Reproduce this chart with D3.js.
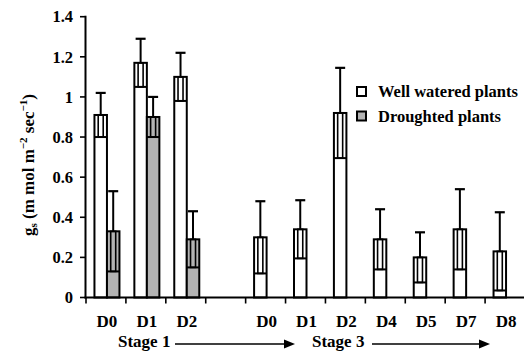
<!DOCTYPE html>
<html><head><meta charset="utf-8">
<script src="https://cdn.jsdelivr.net/npm/d3@7"></script>
<style>
html,body{margin:0;padding:0;background:#fff;}
</style></head>
<body><svg id="c" width="524" height="355"></svg>
<script>
const slots = ["S1-D0","S1-D1","S1-D2","gap","S3-D0","S3-D1","S3-D2","S3-D4","S3-D5","S3-D7","S3-D8"];
const tickLabels = ["D0","D1","D2","","D0","D1","D2","D4","D5","D7","D8"];
const wellValues = [0.91,1.17,1.10,null,0.30,0.34,0.92,0.29,0.20,0.34,0.23];
const wellErrors = [0.11,0.12,0.12,null,0.18,0.145,0.225,0.15,0.125,0.20,0.195];
const droughtValues = [0.33,0.90,0.29,null,null,null,null,null,null,null,null];
const droughtErrors = [0.20,0.10,0.14,null,null,null,null,null,null,null,null];
const yTicks = [0,0.2,0.4,0.6,0.8,1,1.2,1.4];
const seriesNames = ["Well watered plants","Droughted plants"];
const seriesColors = ["#ffffff","#b3b3b3"];
const stageLabels = ["Stage 1","Stage 3"];

const FONT = "Liberation Serif";
const svg = d3.select("#c");
const y = d3.scaleLinear().domain([0,1.4]).range([297.5,16.7]);
const x = d3.scaleBand().domain(slots).range([86,525]).padding(0);
const x1 = d3.scaleBand().domain(["well","drought"]).range([0,25]).padding(0);
const offset = -11.5;

const series = [
  {key:"well", values:wellValues, errors:wellErrors, color:seriesColors[0]},
  {key:"drought", values:droughtValues, errors:droughtErrors, color:seriesColors[1]}
];
series.forEach(s => {
  const data = slots.map((k,i)=>({k, v:s.values[i], e:s.errors[i]})).filter(d=>d.v!=null);
  const g = svg.append("g");
  data.forEach(d => {
    const cx = x(d.k) + x.bandwidth()/2 + offset + x1(s.key);
    const w = x1.bandwidth();
    const mid = cx + w/2;
    g.append("rect").attr("x",cx).attr("y",y(d.v)).attr("width",w).attr("height",y(0)-y(d.v))
      .attr("fill",s.color).attr("stroke","#000").attr("stroke-width",2);
    g.append("rect").attr("x",mid-2.5).attr("y",y(d.v)).attr("width",5).attr("height",y(d.v-d.e)-y(d.v))
      .attr("fill","none").attr("stroke","#000").attr("stroke-width",1.6);
    g.append("line").attr("x1",cx).attr("x2",cx+w).attr("y1",y(d.v-d.e)).attr("y2",y(d.v-d.e))
      .attr("stroke","#000").attr("stroke-width",2);
    g.append("line").attr("x1",mid).attr("x2",mid).attr("y1",y(d.v)).attr("y2",y(d.v+d.e))
      .attr("stroke","#000").attr("stroke-width",2);
    g.append("line").attr("x1",mid-5).attr("x2",mid+5).attr("y1",y(d.v+d.e)).attr("y2",y(d.v+d.e))
      .attr("stroke","#000").attr("stroke-width",2.2);
  });
});

const ya = svg.append("g");
ya.append("line").attr("x1",85.5).attr("x2",85.5).attr("y1",y(1.4)-1).attr("y2",y(0)+1).attr("stroke","#000").attr("stroke-width",2);
yTicks.forEach(t=>{
  ya.append("line").attr("x1",80).attr("x2",85.5).attr("y1",y(t)).attr("y2",y(t)).attr("stroke","#000").attr("stroke-width",1.6);
  ya.append("text").attr("x",73).attr("y",y(t)).attr("dy","0.35em").attr("text-anchor","end")
    .style("font-family",FONT).attr("font-size",16.5).attr("font-weight","bold").text(d3.format("")(t));
});

const xa = svg.append("g");
xa.append("line").attr("x1",84.5).attr("x2",524).attr("y1",y(0)).attr("y2",y(0)).attr("stroke","#000").attr("stroke-width",2);
slots.forEach((k,i)=>{
  xa.append("line").attr("x1",x(k)).attr("x2",x(k)).attr("y1",y(0)).attr("y2",y(0)+6).attr("stroke","#000").attr("stroke-width",1.6);
  if(tickLabels[i]) xa.append("text").attr("x",x(k)+x.bandwidth()/2+1).attr("y",326.5).attr("text-anchor","middle")
    .style("font-family",FONT).attr("font-size",17).attr("font-weight","bold").text(tickLabels[i]);
});

const stageX = [118, 312];
const arrowSeg = [[175,295],[372,490]];
stageLabels.forEach((s,i)=>{
  svg.append("text").attr("x",stageX[i]).attr("y",347).style("font-family",FONT).attr("font-size",17).attr("font-weight","bold").text(s);
  const [a,b] = arrowSeg[i];
  svg.append("line").attr("x1",a).attr("x2",b-9).attr("y1",344).attr("y2",344).attr("stroke","#000").attr("stroke-width",1.6);
  svg.append("path").attr("d",`M${b},344 L${b-11},339.5 L${b-11},348.5 Z`).attr("fill","#000");
});

const yl = svg.append("text").attr("transform","translate(34,165) rotate(-90)").attr("text-anchor","middle")
  .style("font-family",FONT).attr("font-size",17).attr("font-weight","bold");
yl.append("tspan").text("g");
yl.append("tspan").attr("font-size",11).attr("dy",3).text("s");
yl.append("tspan").attr("dy",-3).text(" (m mol m");
yl.append("tspan").attr("font-size",11).attr("dy",-7).text("\u22122");
yl.append("tspan").attr("dy",7).text(" sec");
yl.append("tspan").attr("font-size",11).attr("dy",-7).text("\u22121");
yl.append("tspan").attr("dy",7).text(")");

const lg = svg.append("g");
seriesNames.forEach((n,i)=>{
  const yy = 87 + i*24.5;
  lg.append("rect").attr("x",357).attr("y",yy).attr("width",9).attr("height",9).attr("fill",seriesColors[i]).attr("stroke","#000").attr("stroke-width",2);
  lg.append("text").attr("x",378).attr("y",yy+10).style("font-family",FONT).attr("font-size",16.5).attr("font-weight","bold").text(n);
});
</script></body></html>
